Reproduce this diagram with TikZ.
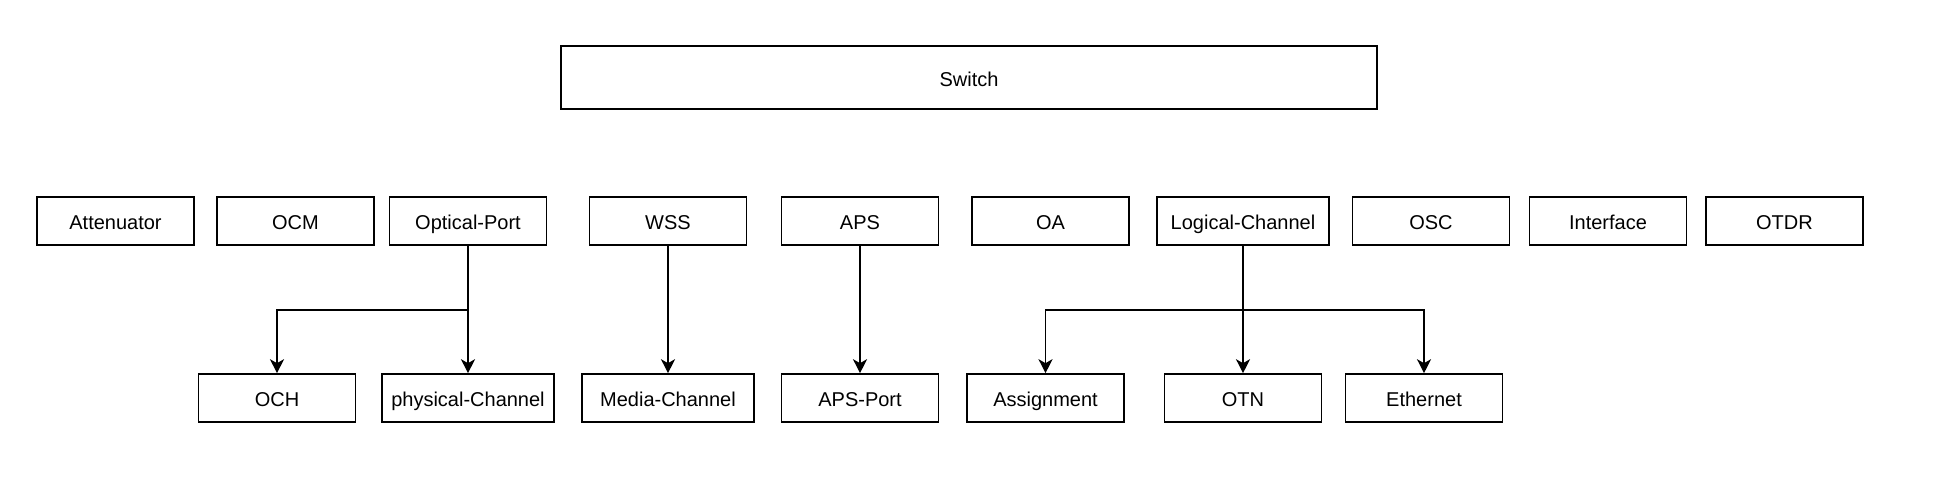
\documentclass[tikz,border=0pt]{standalone}
\usepackage{fontspec}
\setmainfont{Liberation Sans}
\usetikzlibrary{arrows.meta}
\begin{document}
\begin{tikzpicture}[x=1pt,y=-1pt,
  box/.style={draw=black,line width=1.6pt,fill=white,minimum width=157pt,minimum height=48pt,inner sep=0pt,text height=18pt,text depth=1pt,font=\fontsize{20}{24}\selectfont},
  wide/.style={box,minimum width=172pt},
  conn/.style={draw=black,line width=1.6pt},
  arr/.style={conn,-{Stealth[length=14pt,width=14pt,inset=4pt]}}]
\fill[white] (0,0) rectangle (1936,482);
\useasboundingbox (0,0) rectangle (1936,482);
\node[box,minimum width=816pt,minimum height=63pt] (sw) at (969,77.5) {Switch};
% row 1
\node[box] (att) at (115.5,221) {Attenuator};
\node[box] (ocm) at (295.5,221) {OCM};
\node[box] (op) at (468,221) {Optical-Port};
\node[box] (wss) at (668,221) {WSS};
\node[box] (aps) at (860,221) {APS};
\node[box] (oa) at (1050.5,221) {OA};
\node[wide] (lc) at (1243,221) {Logical-Channel};
\node[box] (osc) at (1431,221) {OSC};
\node[box] (intf) at (1608,221) {Interface};
\node[box] (otdr) at (1784.5,221) {OTDR};
% row 2
\node[box] (och) at (277,398) {OCH};
\node[wide] (pc) at (468,398) {physical-Channel};
\node[wide] (mc) at (668,398) {Media-Channel};
\node[box] (apsp) at (860,398) {APS-Port};
\node[box] (asg) at (1045.5,398) {Assignment};
\node[box] (otn) at (1243,398) {OTN};
\node[box] (eth) at (1424,398) {Ethernet};
% junctions
\coordinate (j1) at (468,310);
\coordinate (j2) at (1243,310);
% connectors
\draw[arr] (op.south) -- (pc.north);
\draw[arr] (op.south) -- (j1) -| (och.north);
\draw[arr] (wss.south) -- (mc.north);
\draw[arr] (aps.south) -- (apsp.north);
\draw[arr] (lc.south) -- (otn.north);
\draw[arr] (lc.south) -- (j2) -| (asg.north);
\draw[arr] (lc.south) -- (j2) -| (eth.north);
\end{tikzpicture}
\end{document}
